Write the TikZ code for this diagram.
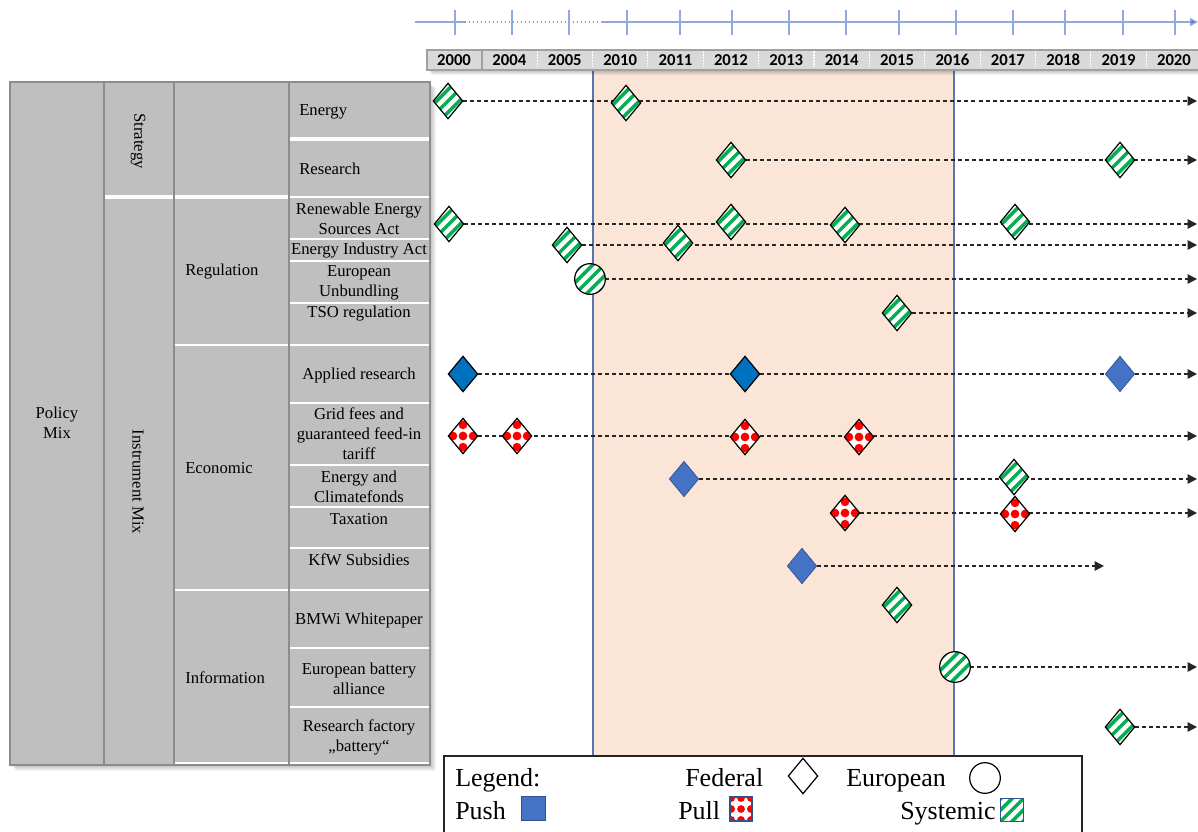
\documentclass[tikz,border=0pt]{standalone}
\usepackage{fontspec}
\setmainfont{Liberation Serif}
\newfontfamily\yearfont{Carlito}
\usetikzlibrary{shapes.geometric,arrows.meta}
\definecolor{tablegray}{HTML}{BFBFBF}
\definecolor{rulegray}{HTML}{8C8C8C}
\definecolor{hdrgray}{HTML}{D9D9D9}
\definecolor{hdrrule}{HTML}{A0A0A0}
\definecolor{peach}{HTML}{FBE5D6}
\definecolor{bandblue}{HTML}{5B73AE}
\definecolor{tlblue}{HTML}{8FAADC}
\definecolor{tldot}{HTML}{8A98B0}
\definecolor{pushblue}{HTML}{4472C4}
\definecolor{pushdark}{HTML}{0070C0}
\definecolor{pushedge}{HTML}{2F528F}
\definecolor{sysgreen}{HTML}{00B050}
\definecolor{pullred}{HTML}{FF0000}
\pgfdeclarelayer{back}
\pgfdeclarelayer{mid}
\pgfsetlayers{back,mid,main}
\tikzset{
  cell/.style={font=\rmfamily\fontsize{12.5}{15}\selectfont, inner sep=0pt, align=center},
  celll/.style={font=\rmfamily\fontsize{12.5}{15}\selectfont, inner sep=0pt, anchor=west},
  year/.style={font=\yearfont\bfseries\fontsize{12.5}{14}\selectfont, inner sep=0pt},
  wsep/.style={white, line width=1.5pt},
  wsepthick/.style={white, line width=3pt},
  conn/.style={black!85, line width=1.1pt, dash pattern=on 3pt off 2.3pt,
               -{Triangle[length=7pt,width=7pt]}},
  mk/.style={inner sep=0pt, outer sep=0pt, draw=black, line width=0.9pt, fill=white},
  fed/.style={mk, diamond, minimum width=22pt, minimum height=26.5pt},
  eu/.style={mk, circle, minimum size=23pt},
  systemic/.style={path picture={
      \foreach \k in {-17,-8.5,0,8.5,17}
        \draw[sysgreen, line width=2.6pt]
          ([xshift=\k pt]path picture bounding box.center) ++(-22pt,-22pt) -- ++(44pt,44pt);
    }},
  % red checker blobs: a plus of five inside a diamond
  pull/.style={path picture={
      \foreach \i/\j in {0/0,1/0,-1/0,0/1,0/-1}
        \fill[pullred] ([xshift=\i*7.6pt, yshift=\j*8.4pt]path picture bounding box.center)
          circle[radius=3.3pt];
    }},
  % the same blobs on a full grid, for the square legend key
  pullsq/.style={path picture={
      \foreach \i in {-1,0,1}
        \foreach \j in {-1,0,1}
          \fill[pullred] ([xshift=\i*7.4pt, yshift=\j*8.2pt]path picture bounding box.center)
            circle[radius=2.9pt];
    }},
  push/.style={fill=pushblue, draw=pushedge, line width=0.5pt},
  pushd/.style={fill=pushdark, draw=black, line width=0.9pt},
  sysd/.style={fed, systemic},
  sysc/.style={eu, systemic},
  pulld/.style={fed, pull},
  pushdia/.style={fed, push},
  pushdiad/.style={fed, pushd},
  legtext/.style={font=\rmfamily\fontsize{19.5}{22}\selectfont, inner sep=0pt, anchor=base west},
  legsq/.style={rectangle, inner sep=0pt, draw=pushedge, line width=0.8pt}
}
\begin{document}
\begin{tikzpicture}[x=0.75pt,y=-0.75pt]
\useasboundingbox (0,0) rectangle (1198,831);

% ---------- background band and timeline frame ----------
\begin{pgfonlayer}{back}
  \fill[white] (0,0) rectangle (1198,831);
  \fill[peach] (593,70) rectangle (954,756);
  \draw[bandblue, line width=1.1pt] (593,70) -- (593,756);
  \draw[bandblue, line width=1.1pt] (954,70) -- (954,756);
\end{pgfonlayer}

% ---------- top time axis ----------
\draw[tlblue, line width=1.1pt] (415,22) -- (465,22);
\draw[tldot, line width=1pt, dotted] (465,22) -- (601,22);
\draw[tlblue, line width=1.1pt, -{Triangle[length=6pt,width=6pt,fill=pushblue]}] (601,22) -- (1198,22);
\foreach \tx in {455,512,569,627,680,732,789,846,899,956,1013,1065,1123,1175}
  \draw[tlblue, line width=0.9pt] (\tx,10) -- (\tx,35);

% ---------- year header ----------
\foreach \s in {1,...,5}
  \fill[black, opacity=0.05] (427+\s,50+\s) rectangle (1198,70+\s);
\fill[hdrgray] (427,50) rectangle (1198,70);
\draw[hdrrule, line width=1.4pt] (1199,50) -- (427,50) -- (427,70) -- (1199,70);
\draw[hdrrule, line width=1.2pt] (481.7,50) -- (481.7,70);
\foreach \i in {1,...,12}
  \draw[white, line width=0.8pt, dash pattern=on 1pt off 1.2pt] ({481.7+55.38*\i},51.5) -- ++(0,17);
\foreach \yr [count=\i from 0] in {2000,2004,2005,2010,2011,2012,2013,2014,2015,2016,2017,2018,2019,2020}
  \node[year] (y\yr) at ({454+55.38*\i},60) {\yr};

% ---------- instrument table ----------
\foreach \s in {1,...,6}
  \fill[black, opacity=0.045] (10+\s,82+\s) rectangle (430+\s,765+\s);
\fill[tablegray] (10,82) rectangle (430,765);
\draw[wsep] (174,763) -- (430,763);
\draw[wsepthick] (289,139) -- (430,139);
\draw[wsepthick] (104,197) -- (289,197);
\draw[wsep] (289,197) -- (430,197);
\foreach \yy in {239,261,303,403,465,507,548,648,707}
  \draw[wsep] (289,\yy) -- (430,\yy);
\draw[wsep] (174,345) -- (430,345);
\draw[wsep] (174,590) -- (430,590);
\draw[rulegray, line width=1pt] (10,82) rectangle (430,765);
\foreach \xx in {104,174,289}
  \draw[rulegray, line width=1pt] (\xx,82) -- (\xx,765);

\node[cell] (policy) at (57,423) {Policy\\Mix};
\node[cell, rotate=-90] (strategy) at (138,141) {Strategy};
\node[cell, rotate=-90] (instr) at (138,482) {Instrument Mix};
\node[celll] (regulation) at (185,272) {Regulation};
\node[celll] (economic) at (185,468) {Economic};
\node[celll] (information) at (185,678) {Information};
\node[celll] (tEnergy) at (299,112) {Energy};
\node[celll] (tResearch) at (299,169) {Research};
\node[cell] (tRESA) at (359,219) {Renewable Energy\\Sources Act};
\node[cell] (tEIA) at (359,251) {Energy Industry Act};
\node[cell] (tUnb) at (359,283) {European\\Unbundling};
\node[cell] (tTSO) at (359,314) {TSO regulation};
\node[cell] (tApp) at (359,375) {Applied research};
\node[cell] (tGrid) at (359,434) {Grid fees and\\guaranteed feed-in\\tariff};
\node[cell] (tClim) at (359,487) {Energy and\\Climatefonds};
\node[cell] (tTax) at (359,519) {Taxation};
\node[cell] (tKfW) at (359,560) {KfW Subsidies};
\node[cell] (tBMWi) at (359,620) {BMWi Whitepaper};
\node[cell] (tEBA) at (359,679) {European battery\\alliance};
\node[cell] (tRF) at (359,737) {Research factory\\„battery“};

% ---------- instrument markers ----------
% Strategy: energy
\node[sysd] (en1) at (448,101) {};
\node[sysd] (en2) at (626,103) {};
\coordinate (enE) at (1197,101);
% Strategy: research
\node[sysd] (re1) at (731,160) {};
\node[sysd] (re2) at (1120,160) {};
\coordinate (reE) at (1197,160);
% Renewable Energy Sources Act
\node[sysd] (rs1) at (449,224) {};
\node[sysd] (rs2) at (731,222) {};
\node[sysd] (rs3) at (845,225) {};
\node[sysd] (rs4) at (1015,222) {};
\coordinate (rsE) at (1197,224);
% Energy Industry Act
\node[sysd] (ei1) at (567,245) {};
\node[sysd] (ei2) at (678,243) {};
\coordinate (eiE) at (1197,245);
% European Unbundling
\node[sysc] (un1) at (590,279) {};
\coordinate (unE) at (1197,279);
% TSO regulation
\node[sysd] (ts1) at (897,313) {};
\coordinate (tsE) at (1197,313);
% Applied research
\node[pushdiad] (ap1) at (463,374) {};
\node[pushdiad] (ap2) at (745,374) {};
\node[pushdia] (ap3) at (1120,374) {};
\coordinate (apE) at (1197,374);
% Grid fees and feed-in tariff
\node[pulld] (gf1) at (463,436) {};
\node[pulld] (gf2) at (517,436) {};
\node[pulld] (gf3) at (745,437) {};
\node[pulld] (gf4) at (859,437) {};
\coordinate (gfE) at (1197,436);
% Energy and Climatefonds
\node[pushdia] (cf1) at (684,479) {};
\node[sysd] (cf2) at (1014,477) {};
\coordinate (cfE) at (1197,479);
% Taxation
\node[pulld] (tx1) at (845,513) {};
\node[pulld] (tx2) at (1015,514) {};
\coordinate (txE) at (1197,513);
% KfW subsidies
\node[pushdia] (kf1) at (802,566) {};
\coordinate (kfE) at (1104,566);
% BMWi whitepaper
\node[sysd] (bw1) at (897,605) {};
% European battery alliance
\node[sysc] (eb1) at (955,667) {};
\coordinate (ebE) at (1197,667);
% Research factory battery
\node[sysd] (rf1) at (1120,727) {};
\coordinate (rfE) at (1197,727);

\begin{pgfonlayer}{mid}
  \draw[conn] (en1) -- (enE);
  \draw[conn] (re1) -- (reE);
  \draw[conn] (rs1) -- (rsE);
  \draw[conn] (ei1) -- (eiE);
  \draw[conn] (un1) -- (unE);
  \draw[conn] (ts1) -- (tsE);
  \draw[conn] (ap1) -- (apE);
  \draw[conn] (gf1) -- (gfE);
  \draw[conn] (cf1) -- (cfE);
  \draw[conn] (tx1) -- (txE);
  \draw[conn] (kf1) -- (kfE);
  \draw[conn] (eb1) -- (ebE);
  \draw[conn] (rf1) -- (rfE);
\end{pgfonlayer}

% ---------- legend ----------
\draw[black!85, line width=1pt, fill=white] (444,756) rectangle (1082,845);
\node[legtext] (lgLegend) at (455,786) {Legend:};
\node[legtext] (lgFederal) at (685,786) {Federal};
\node[fed] (lgFedMk) at (803,776) {};
\node[legtext] (lgEuropean) at (846,786) {European};
\node[eu] (lgEuMk) at (985,778) {};
\node[legtext] (lgPush) at (455,819) {Push};
\node[legsq, fill=pushblue, minimum size=18.5pt] (lgPushMk) at (533.5,808.5) {};
\node[legtext] (lgPull) at (678,819) {Pull};
\node[legsq, fill=white, pullsq, minimum width=16.5pt, minimum height=18pt] (lgPullMk) at (741,809) {};
\node[legtext] (lgSystemic) at (900,819) {Systemic};
\node[legsq, fill=white, systemic, minimum size=17pt] (lgSysMk) at (1012,810) {};
\end{tikzpicture}
\end{document}
